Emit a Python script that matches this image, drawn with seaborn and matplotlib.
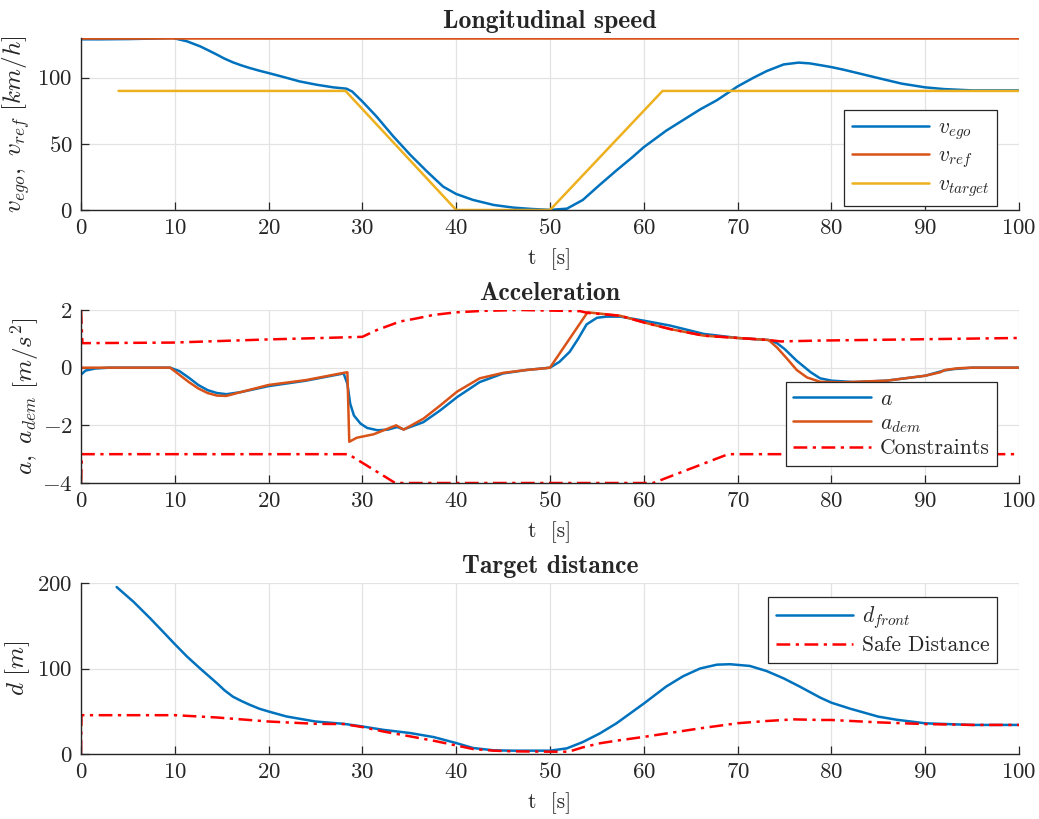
import matplotlib
matplotlib.use("Agg")
import matplotlib.pyplot as plt
import seaborn as sns

# --- data ------------------------------------------------------------------
# longitudinal speed [km/h]
t_ego = [0, 2, 5, 8, 9.8, 11.3, 12.7, 13.6, 14.5, 15.3, 16.2, 17.1, 18, 19, 20,
         21.6, 23.3, 25.1, 26.9, 28.3, 28.9, 30, 31.5, 33.3, 35.1, 36.9, 38.6, 40,
         41.8, 44, 46.1, 48, 50, 51.8, 53.5, 55.3, 57.1, 58.8, 60, 62.4, 64.2, 66,
         67.8, 70, 71.7, 73.1, 74.9, 76.5, 77.7, 78.8, 80, 81.2, 82.5, 85, 87.5,
         90, 92, 95, 100]
v_ego = [129, 129, 129.2, 129.6, 130, 127.5, 123.7, 120.6, 117.4, 114.4, 111.6,
         109.3, 107.3, 105.3, 103.5, 100.5, 97.2, 94.7, 92.7, 91.7, 89.6, 82, 70.7,
         55.6, 41.7, 29, 17.7, 12.1, 7.6, 3.8, 1.8, 0.8, 0.1, 1, 7.6, 19, 30, 40,
         47.5, 60, 68, 76, 83, 93.4, 100, 105, 110, 111.4, 110.8, 109.5, 108,
         106.2, 104, 99.7, 95.5, 92.7, 91.4, 90.4, 90.4]
t_ref = [0, 100]
v_ref = [130, 130]
t_target = [4, 28.2, 40, 50, 62, 100]
v_target = [90, 90, 0, 0, 90, 90]

# acceleration [m/s^2]
t_a = [0, 0.5, 1.5, 3, 9.5, 10.5, 11.5, 12.5, 13.5, 14.5, 15.5, 17, 20, 24, 28,
       28.4, 28.7, 29.1, 29.8, 30.5, 31.6, 32.7, 33.7, 34.4, 36.5, 38.3, 40.1,
       42.5, 45, 47.5, 50, 51, 52.1, 53, 53.9, 55, 56, 57.5, 60, 62.8, 66.4, 70,
       73.3, 74.2, 75, 76.3, 77.8, 78.8, 80, 82.4, 85.9, 90, 92, 93, 95, 100]
a = [-0.24, -0.1, -0.03, 0, 0, -0.12, -0.35, -0.6, -0.78, -0.88, -0.92, -0.85,
     -0.64, -0.45, -0.2, -0.56, -1.25, -1.66, -1.94, -2.09, -2.17, -2.15, -2.06,
     -2.14, -1.89, -1.48, -1.02, -0.5, -0.2, -0.08, 0, 0.2, 0.55, 1.0, 1.5, 1.73,
     1.77, 1.77, 1.63, 1.46, 1.17, 1.03, 0.96, 0.85, 0.65, 0.24, -0.16, -0.37,
     -0.45, -0.5, -0.45, -0.28, -0.1, -0.05, 0, 0]
t_dem = [0, 9.5, 10.5, 11.5, 12.5, 13.5, 14.5, 15.5, 17, 20, 24, 28, 28.4, 28.6,
         29.4, 31.2, 33.6, 34.4, 36.5, 38.3, 40.1, 42.5, 45, 47.5, 49.5, 50, 54,
         57.5, 60, 62.8, 66.4, 70, 73.3, 74.2, 75.3, 76.3, 77.4, 78.8, 81, 85.9,
         90, 91.6, 92.1, 93.5, 95, 100]
a_dem = [0, 0, -0.25, -0.5, -0.72, -0.88, -0.97, -0.98, -0.85, -0.6, -0.43,
         -0.18, -0.16, -2.57, -2.43, -2.31, -2.0, -2.15, -1.77, -1.31, -0.83,
         -0.37, -0.18, -0.08, -0.02, 0, 1.92, 1.8, 1.57, 1.34, 1.11, 1.03, 0.96,
         0.7, 0.3, -0.08, -0.34, -0.49, -0.51, -0.45, -0.28, -0.16, -0.08, -0.02,
         0, 0]
t_upper = [0, 0.15, 9.8, 20, 26.9, 30, 31.5, 34, 35.8, 37.6, 40, 42.9, 46.8,
           53.2, 54, 57.5, 60, 62.8, 66.4, 70, 73.3, 74.6, 78.8, 85.9, 93, 100]
a_upper = [2, 0.85, 0.87, 0.98, 1.04, 1.07, 1.3, 1.6, 1.71, 1.83, 1.92, 1.97,
           2.0, 1.96, 1.9, 1.8, 1.57, 1.34, 1.11, 1.03, 0.96, 0.91, 0.94, 0.97,
           1.0, 1.03]
t_lower = [0, 0.1, 28.5, 33.5, 61, 69, 100]
a_lower = [-4, -3, -3, -4, -4, -3, -3]

# target distance [m]
t_front = [3.8, 5.6, 7.4, 8.7, 10, 11.3, 12.7, 14.5, 15.3, 16.2, 17.1, 18, 19,
           20, 21.9, 25, 28, 30, 32.2, 35.1, 37.6, 40, 41.8, 44, 46.1, 50, 51.8,
           53.5, 55.3, 57.1, 60, 62.4, 64.2, 66, 67.8, 69.2, 71.3, 73.1, 74.9,
           76.6, 78.8, 80, 82, 85, 87, 90, 95, 100]
d_front = [195.3, 178, 158.4, 143.5, 128.5, 114, 100, 82.7, 74.5, 67, 62, 57.5,
           53, 49.7, 43.9, 38, 35.3, 32.2, 28.3, 24.5, 19.8, 12.8, 7, 4.3, 3.9,
           3.9, 6.6, 14, 24, 36, 59, 79, 91, 100, 104.5, 105, 103, 97, 88.5, 79,
           66, 60, 53, 43.7, 40, 35.9, 34, 34]
t_safe = [0, 0.05, 10, 14.5, 20, 25, 28, 30, 32.2, 35.1, 37.6, 40, 41.8, 44,
          46.1, 50, 52, 53.5, 55.3, 57.1, 60, 62.4, 66, 70, 73.1, 76, 78.8, 80,
          85, 90, 95, 100]
d_safe = [0, 45.4, 45.4, 42.7, 38, 35.3, 35, 31.5, 26.4, 20.6, 15.5, 10, 5.8,
          3.9, 3.1, 2.7, 2.7, 7.8, 12.5, 15.6, 20, 24, 30, 36, 38.6, 40.5, 39.8,
          39.8, 37, 35, 34, 34]

# --- style -----------------------------------------------------------------
BLUE, ORANGE, YELLOW = "#0072BD", "#D95319", "#EDB120"
DK = "#262626"
sns.set_style("whitegrid", {
    "grid.color": "#e3e3e3", "axes.edgecolor": DK, "xtick.direction": "in",
    "ytick.direction": "in", "xtick.bottom": True, "ytick.left": True,
})
plt.rcParams["font.family"] = "serif"
plt.rcParams["font.serif"] = ["cmr10", "DejaVu Serif"]
plt.rcParams["mathtext.fontset"] = "cm"
plt.rcParams["axes.unicode_minus"] = False
plt.rcParams["axes.formatter.use_mathtext"] = True

dashdot = (0, (5.5, 2.2, 1.3, 2.2))
fig = plt.figure(figsize=(10.39, 8.19), dpi=100)
left, width = 81 / 1039, 938 / 1039
ax1 = fig.add_axes([left, 1 - 210 / 819, width, 172 / 819])
ax2 = fig.add_axes([left, 1 - 483 / 819, width, 173 / 819])
ax3 = fig.add_axes([left, 1 - 754 / 819, width, 171 / 819])

kw = dict(estimator=None, sort=False, linewidth=1.8)
title_kw = dict(fontfamily="cmb10", fontsize=18.5, pad=7)

# Longitudinal speed
sns.lineplot(x=t_ego, y=v_ego, ax=ax1, color=BLUE, label=r"$v_{ego}$", **kw)
sns.lineplot(x=t_ref, y=v_ref, ax=ax1, color=ORANGE, label=r"$v_{ref}$", **kw)
sns.lineplot(x=t_target, y=v_target, ax=ax1, color=YELLOW, label=r"$v_{target}$", **kw)
ax1.set_ylim(0, 130)
ax1.set_yticks([0, 50, 100])
ax1.set_ylabel(r"$v_{ego},\ v_{ref}\ [km/h]$", fontsize=18)
ax1.yaxis.set_label_coords(-0.052, 0.5)
ax1.set_title("Longitudinal speed", **title_kw)

# Acceleration
sns.lineplot(x=t_a, y=a, ax=ax2, color=BLUE, label=r"$a$", **kw)
sns.lineplot(x=t_dem, y=a_dem, ax=ax2, color=ORANGE, label=r"$a_{dem}$", **kw)
sns.lineplot(x=t_upper, y=a_upper, ax=ax2, color="red", linestyle=dashdot,
             label="Constraints", **kw)
sns.lineplot(x=t_lower, y=a_lower, ax=ax2, color="red", linestyle=dashdot, **kw)
ax2.set_ylim(-4, 2)
ax2.set_yticks([-4, -2, 0, 2])
ax2.set_ylabel(r"$a,\ a_{dem}\ [m/s^2]$", fontsize=18)
ax2.yaxis.set_label_coords(-0.043, 0.5)
ax2.set_title("Acceleration", **title_kw)

# Target distance
sns.lineplot(x=t_front, y=d_front, ax=ax3, color=BLUE, label=r"$d_{front}$", **kw)
sns.lineplot(x=t_safe, y=d_safe, ax=ax3, color="red", linestyle=dashdot,
             label="Safe Distance", **kw)
ax3.set_ylim(0, 200)
ax3.set_yticks([0, 100, 200])
ax3.set_ylabel(r"$d\ [m]$", fontsize=18)
ax3.yaxis.set_label_coords(-0.052, 0.5)
ax3.set_title("Target distance", **title_kw)

legend_tops = [0.581, 0.584, 0.918]
for ax, ytop in zip([ax1, ax2, ax3], legend_tops):
    ax.set_xlim(0, 100)
    ax.set_xticks(range(0, 101, 10))
    ax.set_xlabel("t  [s]", fontsize=15.5, labelpad=7)
    for s in ["top", "right"]:
        ax.spines[s].set_visible(False)
    for s in ["bottom", "left"]:
        ax.spines[s].set_color(DK)
        ax.spines[s].set_linewidth(1.0)
    ax.tick_params(axis="both", colors=DK, length=6, width=0.9, labelsize=16.5,
                   pad=6)
    ax.grid(True, color="#e3e3e3", linewidth=0.9)
    ax.set_axisbelow(True)
    leg = ax.legend(loc="upper right", bbox_to_anchor=(0.9765, ytop),
                    borderaxespad=0, fancybox=False, framealpha=1,
                    edgecolor=DK, handlelength=3.6, fontsize=15.5,
                    borderpad=0.35, labelspacing=0.2, handletextpad=0.4)
    leg.get_frame().set_linewidth(0.9)

fig.savefig("out.png", dpi=100)
